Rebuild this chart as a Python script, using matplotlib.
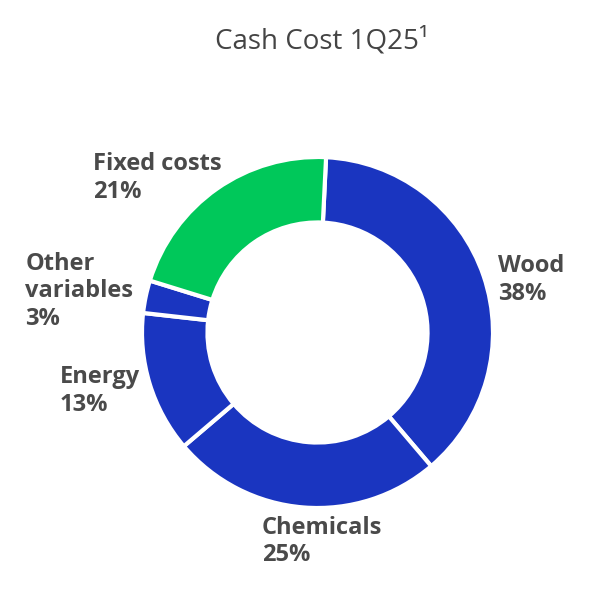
import matplotlib.pyplot as plt

# Cash cost breakdown, clockwise from the top
labels = ["Wood", "Chemicals", "Energy", "Other\nvariables", "Fixed costs"]
shares = [38, 25, 13, 3, 21]
colors = ["#1a35c0", "#1a35c0", "#1a35c0", "#1a35c0", "#00c85a"]

# label anchor positions (left edge, vertical centre) in data units
label_pos = [(1.028, 0.30), (-0.316, -1.19), (-1.47, -0.335), (-1.665, 0.235), (-1.28, 0.88)]

plt.rcParams['font.family'] = ['Open Sans', 'DejaVu Sans']
text_color = "#4a4a4a"

fig = plt.figure(figsize=(6.04, 6.04), dpi=100)
cx, cy, r = 317.5, 332.5, 175.5
ax = fig.add_axes([(cx - r) / 604, (604 - cy - r) / 604, 2 * r / 604, 2 * r / 604])

ax.pie(shares, colors=colors, startangle=87.2, counterclock=False, radius=1,
       wedgeprops=dict(width=0.373, edgecolor='white', linewidth=3))
ax.set_xlim(-1, 1)
ax.set_ylim(-1, 1)
ax.set_aspect('equal')
ax.axis('off')

for lab, val, (x, y) in zip(labels, shares, label_pos):
    ax.text(x, y, f"{lab}\n{val}%", ha='left', va='center', fontsize=17,
            fontweight='bold', color=text_color, linespacing=1.2, clip_on=False)

fig.text(322 / 604, 1 - 41 / 604, "Cash Cost 1Q25¹", ha='center', va='center',
         fontsize=20, color="#444444")

fig.savefig("out.png", dpi=100, facecolor='white')
